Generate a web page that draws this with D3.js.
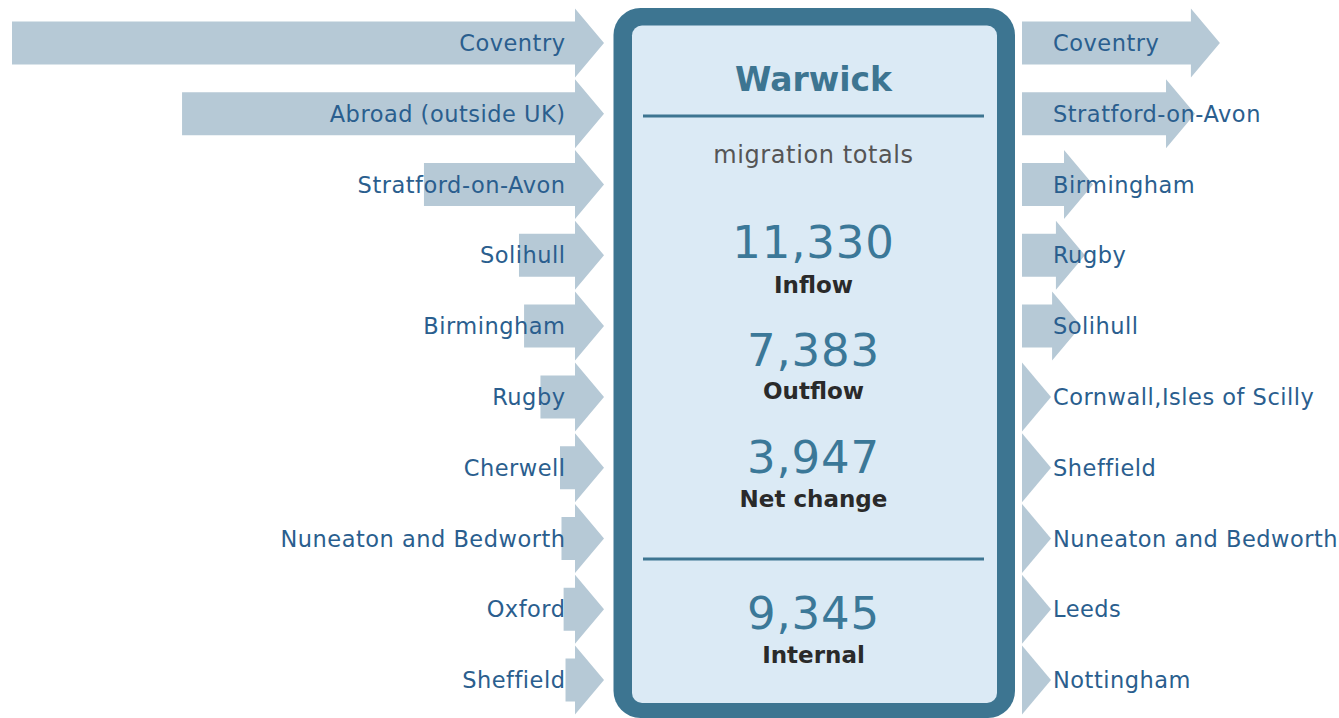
<!DOCTYPE html>
<html>
<head>
<meta charset="utf-8">
<script src="https://cdn.jsdelivr.net/npm/d3@7"></script>
<style>
  html, body { margin: 0; padding: 0; background: #ffffff; }
  svg { display: block; font-family: "DejaVu Sans", Verdana, sans-serif; }
</style>
</head>
<body>
<svg id="chart" width="1339" height="718"></svg>
<script>
// Warwick migration: top origins (inflow) and destinations (outflow)
const inflowNames = ["Coventry", "Abroad (outside UK)", "Stratford-on-Avon", "Solihull", "Birmingham",
  "Rugby", "Cherwell", "Nuneaton and Bedworth", "Oxford", "Sheffield"];
const inflowValues = [2785, 1985, 847, 400, 376, 299, 207, 200, 190, 181];

const outflowNames = ["Coventry", "Stratford-on-Avon", "Birmingham", "Rugby", "Solihull",
  "Cornwall,Isles of Scilly", "Sheffield", "Nuneaton and Bedworth", "Leeds", "Nottingham"];
const outflowValues = [931, 814, 334, 296, 278, 135, 130, 126, 121, 118];

const areaName = "Warwick";
const totalLabels = ["Inflow", "Outflow", "Net change"];
const totalValues = [11330, 7383, 3947];
const internalLabel = "Internal";
const internalValue = 9345;

const svg = d3.select("#chart");
const fmt = d3.format(",");

const arrowFill = "#b6c9d6";
const labelColor = "#2a5e8e";
const frameColor = "#3d7591";

// Rows shared by both sides
const rowY = d3.scalePoint().domain(d3.range(10)).range([43, 680]);

// Arrow length (body + head) proportional to the flow
const maxFlow = d3.max(inflowValues.concat(outflowValues));
const len = d3.scaleLinear().domain([0, maxFlow]).range([0, 592]);

const headLen = 29, headHalf = 34.5, bodyHalf = 21.5;

function arrowPath(x0, tip, cy) {
  // x0 = tail, tip = point; draws a right-pointing arrow
  const xb = Math.max(x0, tip - headLen);
  const p = d3.path();
  if (xb > x0) {
    p.moveTo(x0, cy - bodyHalf);
    p.lineTo(xb, cy - bodyHalf);
  } else {
    p.moveTo(xb, cy - bodyHalf);
  }
  p.lineTo(xb, cy - headHalf);
  p.lineTo(tip, cy);
  p.lineTo(xb, cy + headHalf);
  p.lineTo(xb, cy + bodyHalf);
  if (xb > x0) p.lineTo(x0, cy + bodyHalf);
  p.closePath();
  return p.toString();
}

// Inflow arrows pointing into the box
const leftTip = 604;
const inflow = svg.append("g").attr("class", "inflow");
inflow.selectAll("path")
  .data(inflowValues)
  .join("path")
  .attr("d", (v, i) => {
    const total = Math.max(len(v), headLen);
    return arrowPath(leftTip - total, leftTip, rowY(i));
  })
  .attr("fill", arrowFill);
inflow.selectAll("text")
  .data(inflowNames)
  .join("text")
  .attr("x", 565.5)
  .attr("y", (d, i) => rowY(i))
  .attr("dy", "0.36em")
  .attr("text-anchor", "end")
  .attr("font-size", 22.5)
  .attr("letter-spacing", 0.5)
  .attr("fill", labelColor)
  .text(d => d);

// Outflow arrows leaving the box
const rightTail = 1022;
const outflow = svg.append("g").attr("class", "outflow");
outflow.selectAll("path")
  .data(outflowValues)
  .join("path")
  .attr("d", (v, i) => {
    const total = Math.max(len(v), headLen);
    return arrowPath(rightTail, rightTail + total, rowY(i));
  })
  .attr("fill", arrowFill);
outflow.selectAll("text")
  .data(outflowNames)
  .join("text")
  .attr("x", 1053)
  .attr("y", (d, i) => rowY(i))
  .attr("dy", "0.36em")
  .attr("text-anchor", "start")
  .attr("font-size", 22.5)
  .attr("letter-spacing", 0.5)
  .attr("fill", labelColor)
  .text(d => d);

// Central summary panel
const panel = svg.append("g").attr("class", "panel");
panel.append("rect")
  .attr("x", 613.5).attr("y", 8).attr("width", 401.5).attr("height", 710)
  .attr("rx", 27).attr("fill", frameColor);
panel.append("rect")
  .attr("x", 632).attr("y", 25.5).attr("width", 365).attr("height", 677.5)
  .attr("rx", 10).attr("fill", "#dbeaf5");

const cx = 813.5;
panel.append("text")
  .attr("x", cx).attr("y", 91)
  .attr("text-anchor", "middle")
  .attr("font-size", 33).attr("font-weight", "bold")
  .attr("fill", frameColor)
  .text(areaName);
panel.append("line")
  .attr("x1", 643).attr("x2", 984).attr("y1", 116).attr("y2", 116)
  .attr("stroke", frameColor).attr("stroke-width", 3);
panel.append("text")
  .attr("x", cx).attr("y", 163)
  .attr("text-anchor", "middle")
  .attr("font-size", 24)
  .attr("letter-spacing", 0.6)
  .attr("fill", "#555555")
  .text("migration totals");

const numBase = [258, 366, 473];
const lblBase = [293, 399, 507];
const totals = panel.append("g");
totals.selectAll("text.num")
  .data(totalValues)
  .join("text")
  .attr("class", "num")
  .attr("x", cx).attr("y", (d, i) => numBase[i])
  .attr("text-anchor", "middle")
  .attr("font-size", 45)
  .attr("letter-spacing", 0.8)
  .attr("fill", "#3b7898")
  .text(d => fmt(d));
totals.selectAll("text.lbl")
  .data(totalLabels)
  .join("text")
  .attr("class", "lbl")
  .attr("x", cx).attr("y", (d, i) => lblBase[i])
  .attr("text-anchor", "middle")
  .attr("font-size", 23).attr("font-weight", "bold")
  .attr("fill", "#2a2a2a")
  .text(d => d);

panel.append("line")
  .attr("x1", 643).attr("x2", 984).attr("y1", 559).attr("y2", 559)
  .attr("stroke", frameColor).attr("stroke-width", 3);
panel.append("text")
  .attr("x", cx).attr("y", 629)
  .attr("text-anchor", "middle")
  .attr("font-size", 45)
  .attr("letter-spacing", 0.8)
  .attr("fill", "#3b7898")
  .text(fmt(internalValue));
panel.append("text")
  .attr("x", cx).attr("y", 663)
  .attr("text-anchor", "middle")
  .attr("font-size", 23).attr("font-weight", "bold")
  .attr("fill", "#2a2a2a")
  .text(internalLabel);
</script>
</body>
</html>
